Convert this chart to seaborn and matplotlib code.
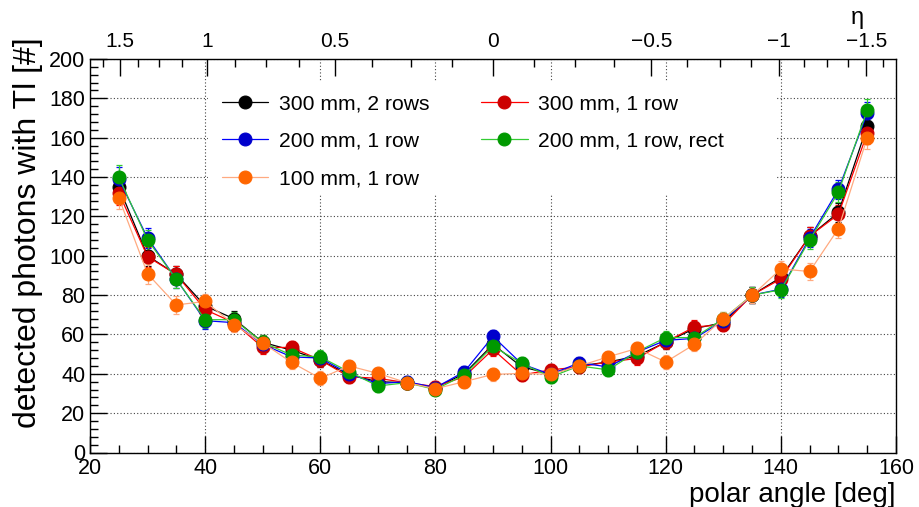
import numpy as np
import pandas as pd
import matplotlib
matplotlib.use("Agg")
import matplotlib.pyplot as plt
from matplotlib.patches import Rectangle
from matplotlib.ticker import MultipleLocator, FixedLocator
import seaborn as sns

# ---------------- data ----------------
angles = [25, 30, 35, 40, 45, 50, 55, 60, 65, 70, 75, 80, 85, 90,
          95, 100, 105, 110, 115, 120, 125, 130, 135, 140, 145, 150, 155]

s300_2rows = [135, 100, 90.5, 74.5, 68, 56, 52, 47, 39.5, 36, 35.5, 33, 40, 55,
              43.5, 40, 44, 46, 49, 56, 63, 66, 80, 89, 110, 122, 166]
s300_1row = [132, 99.5, 90.5, 72.6, 66, 53.4, 53.4, 47, 38.5, 37.7, 35.5, 33.5, 38.5, 52.4,
             39.4, 42, 43.5, 46, 47.8, 56.2, 63.8, 65, 80, 88.2, 110, 121, 162.3]
s200_1row = [139, 109, 88, 67, 66, 55, 48.6, 48, 40, 35, 36, 33, 41, 59,
             45, 39.7, 45.6, 43.5, 51, 57, 58, 67, 80, 83, 109, 133.7, 172.4]
s200_rect = [140, 108, 88, 67.5, 67.5, 56, 49.5, 48.6, 41, 33.8, 35.5, 32, 39.4, 54,
             45.3, 38.4, 44, 42, 51.2, 58.4, 58.4, 68, 80, 82.7, 108, 132.3, 174]
s100_1row = [129.6, 90.8, 75, 76.8, 65, 55.7, 45.8, 37.7, 44, 40.2, 35.5, 32.4, 36, 39.7,
             40.2, 39.7, 44, 48.6, 52.9, 46, 55, 68, 79.8, 93.3, 92, 113.8, 160]
errors = [6, 5, 4.5, 4, 4, 3.5, 3.5, 3.5, 3, 3, 3, 3, 3, 3.5,
          3, 3, 3, 3, 3.5, 3.5, 3.5, 3.5, 4, 4, 4.5, 5, 5.5]

labels = ["300 mm, 2 rows", "300 mm, 1 row", "200 mm, 1 row",
          "200 mm, 1 row, rect", "100 mm, 1 row"]
series = [s300_2rows, s300_1row, s200_1row, s200_rect, s100_1row]
line_colors = ["#000000", "#ff0000", "#0000ff", "#33cc33", "#ffaa80"]
marker_colors = ["#000000", "#cc0000", "#0000cc", "#009900", "#ff6600"]

eta_major = [1.5, 1.0, 0.5, 0.0, -0.5, -1.0, -1.5]
eta_major_labels = ["1.5", "1", "0.5", "0", "\u22120.5", "\u22121", "\u22121.5"]

# ---------------- style ----------------
sns.set_theme(style="ticks")
plt.rcParams["font.family"] = ["Liberation Sans", "DejaVu Sans"]
plt.rcParams["axes.unicode_minus"] = True
for k in ["text.color", "axes.labelcolor", "xtick.color", "ytick.color",
          "xtick.labelcolor", "ytick.labelcolor"]:
    plt.rcParams[k] = "black"

fig = plt.figure(figsize=(9.19, 5.07), dpi=100)
ax = fig.add_axes([90 / 919, 1 - 452.5 / 507, 806 / 919, 393.5 / 507])

for vals, lab, lc, mc in zip(series, labels, line_colors, marker_colors):
    df = pd.DataFrame({"angle": angles, "n": vals, "err": errors})
    ax.errorbar(df["angle"], df["n"], yerr=df["err"], fmt="none", ecolor=lc,
                elinewidth=0.9, capsize=2.5, capthick=0.9, zorder=2)
    sns.lineplot(data=df, x="angle", y="n", ax=ax, color=lc, linewidth=0.9,
                 marker="o", markersize=9.3, markerfacecolor=mc,
                 markeredgecolor=mc, label=lab, zorder=3)

ax.set_xlim(20, 160)
ax.set_ylim(0, 200)
ax.xaxis.set_major_locator(MultipleLocator(20))
ax.xaxis.set_minor_locator(MultipleLocator(5))
ax.yaxis.set_major_locator(MultipleLocator(20))
ax.yaxis.set_minor_locator(MultipleLocator(4))
ax.tick_params(which="both", direction="in", top=False, right=False,
               labelsize=15.5, color="black", labelcolor="black")
ax.tick_params(which="major", length=12, width=1)
ax.tick_params(which="minor", length=6, width=1)
ax.tick_params(axis="x", pad=4)
for sp in ax.spines.values():
    sp.set_color("black")
    sp.set_linewidth(1)
ax.set_axisbelow(True)
ax.grid(True, which="major", linestyle=(0, (1, 2)), color="#444444", linewidth=0.8)

ax.set_xlabel("polar angle [deg]", loc="right", fontsize=20, labelpad=2)
ax.set_ylabel("detected photons with Tl [#]", fontsize=23, ha="right")
ax.yaxis.set_label_coords(-0.058, 1.056)

# white legend background
ax.add_patch(Rectangle((0.146, 0.654), 0.704, 0.29, transform=ax.transAxes,
                       facecolor="white", edgecolor="none", zorder=1.5))

handles, labs = ax.get_legend_handles_labels()
order = [0, 2, 4, 1, 3]
leg = ax.legend([handles[i] for i in order], [labs[i] for i in order],
                ncol=2, loc="upper left", bbox_to_anchor=(0.1638, 0.91),
                frameon=False, fontsize=15.2, borderpad=0, borderaxespad=0,
                handlelength=2.2, handletextpad=0.5, columnspacing=2.45,
                labelspacing=0.87)
leg.set_zorder(5)

# top eta axis
def eta_to_theta(eta):
    return np.degrees(2 * np.arctan(np.exp(-np.asarray(eta, dtype=float))))

ax2 = ax.twiny()
ax2.set_xlim(20, 160)
ax2.xaxis.set_major_locator(FixedLocator(eta_to_theta(eta_major)))
ax2.set_xticklabels(eta_major_labels)
eta_minor = np.arange(-1.625, 1.626, 0.125)
ax2.xaxis.set_minor_locator(FixedLocator(eta_to_theta(eta_minor)))
ax2.tick_params(which="both", direction="in", top=True, bottom=False,
                labelsize=15, color="black", labelcolor="black", pad=6)
ax2.tick_params(which="major", length=12, width=1)
ax2.tick_params(which="minor", length=6, width=1)
ax2.grid(False)
for sp in ax2.spines.values():
    sp.set_visible(False)
ax.text(0.952, 1.104, "\u03b7", transform=ax.transAxes, ha="center",
        va="center", fontsize=17)

fig.savefig("out.png", dpi=100)
